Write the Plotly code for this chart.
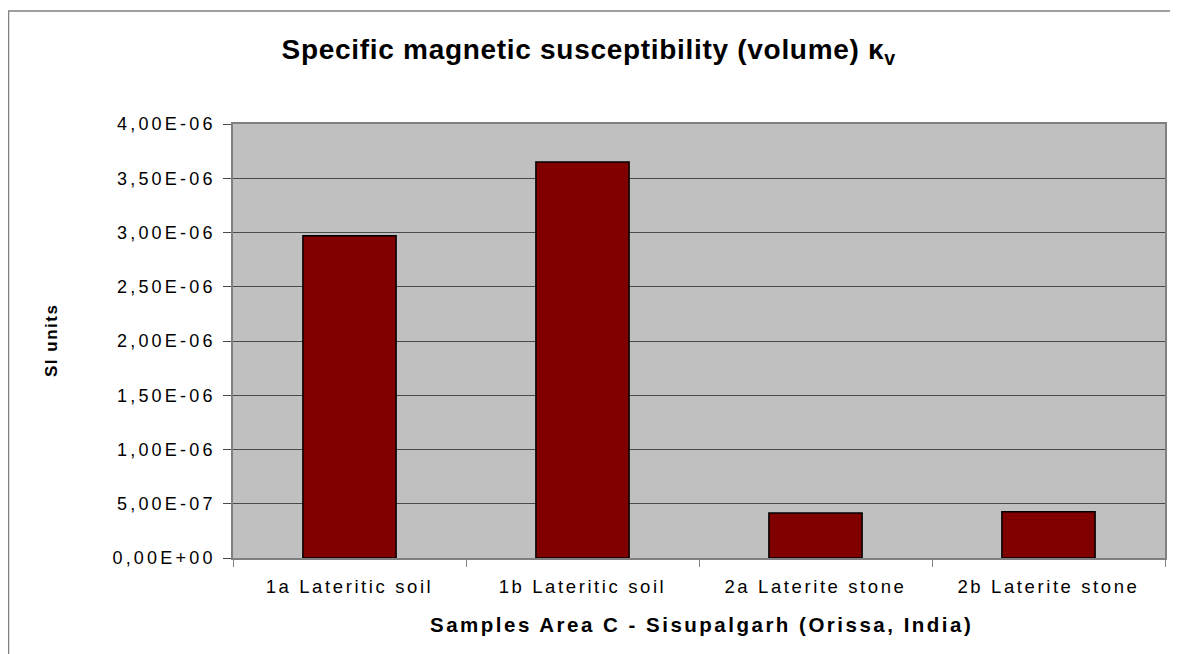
import plotly.graph_objects as go

categories = ["1a Lateritic soil", "1b Lateritic soil", "2a Laterite stone", "2b Laterite stone"]
values = [2.97e-6, 3.65e-6, 4.15e-7, 4.27e-7]
tick_vals = [0, 5e-7, 1e-6, 1.5e-6, 2e-6, 2.5e-6, 3e-6, 3.5e-6, 4e-6]
tick_text = ["0,00E+00", "5,00E-07", "1,00E-06", "1,50E-06", "2,00E-06",
             "2,50E-06", "3,00E-06", "3,50E-06", "4,00E-06"]
title_text = "Specific magnetic susceptibility (volume) κ<sub>v</sub>"
x_title = "Samples Area C - Sisupalgarh (Orissa, India)"
y_title = "SI units"

# page body has an 8px margin: figure occupies screen (8,8)-(1178,654)
OFF = 8
W, H = 1178 - OFF, 654 - OFF
L, R, T, B = 233 - OFF, 13, 124 - OFF, 96
pw, ph = W - L - R, H - T - B

def sx(px):  # screen px -> paper x
    return (px - OFF - L) / pw

def sy(py):  # screen px -> paper y
    return (OFF + T + ph - py) / ph

FONT = "Liberation Sans, Arial, sans-serif"

fig = go.Figure()
fig.add_trace(go.Bar(
    x=categories, y=values,
    marker=dict(color="#800000", line=dict(color="#000000", width=1.5)),
    width=0.4,
))

fig.update_layout(
    width=W, height=H,
    margin=dict(l=L, r=R, t=T, b=B),
    paper_bgcolor="white",
    plot_bgcolor="#c0c0c0",
    showlegend=False,
    font=dict(family=FONT, color="#000000"),
    xaxis=dict(
        type="category",
        showgrid=False,
        showline=True, linecolor="#808080", linewidth=1.5, mirror=True,
        ticks="outside", ticklen=7, tickcolor="#808080", tickwidth=1,
        tickson="boundaries",
        tickfont=dict(size=18.5),
        ticklabelstandoff=11,
    ),
    yaxis=dict(
        range=[0, 4e-6],
        tickvals=tick_vals, ticktext=tick_text,
        showgrid=True, gridcolor="#4a4a4a", gridwidth=1,
        zeroline=False,
        showline=True, linecolor="#808080", linewidth=1.5, mirror=True,
        ticks="outside", ticklen=8, tickcolor="#4a4a4a", tickwidth=1,
        tickfont=dict(size=18),
        ticklabelstandoff=4,
    ),
    shapes=[
        dict(type="rect", xref="paper", yref="paper",
             x0=sx(8.5), x1=sx(1200), y0=sy(680), y1=sy(11),
             line=dict(color="#808080", width=1.5), fillcolor="rgba(0,0,0,0)",
             layer="below"),
    ],
    annotations=[
        dict(text="<b>" + title_text + "</b>", xref="paper", yref="paper",
             x=sx(589), y=sy(65), xanchor="center", yanchor="bottom",
             showarrow=False, font=dict(size=28), yshift=-6),
        dict(text="<b>" + x_title + "</b>", xref="paper", yref="paper",
             x=sx(701), y=sy(624), xanchor="center", yanchor="middle",
             showarrow=False, font=dict(size=20.5)),
        dict(text="<b>" + y_title + "</b>", xref="paper", yref="paper",
             x=sx(51), y=sy(341), xanchor="center", yanchor="middle",
             textangle=-90, showarrow=False, font=dict(size=17)),
    ],
)

spacing_js = """
(function(){
  var gd = document.getElementById('{plot_id}');
  function apply(){
    gd.querySelectorAll('.xtick text').forEach(function(t){ t.style.letterSpacing='2.6px'; });
    gd.querySelectorAll('.ytick text').forEach(function(t){ t.style.letterSpacing='3.2px'; });
    var ann = gd.querySelectorAll('.annotation-text');
    var sp = ['0.7px', '2.5px', '1.5px'];
    ann.forEach(function(t, i){ t.style.letterSpacing = sp[i] || '0px'; });
  }
  apply();
  gd.on && gd.on('plotly_afterplot', apply);
})();
"""

fig.write_html("out.html", post_script=spacing_js)
